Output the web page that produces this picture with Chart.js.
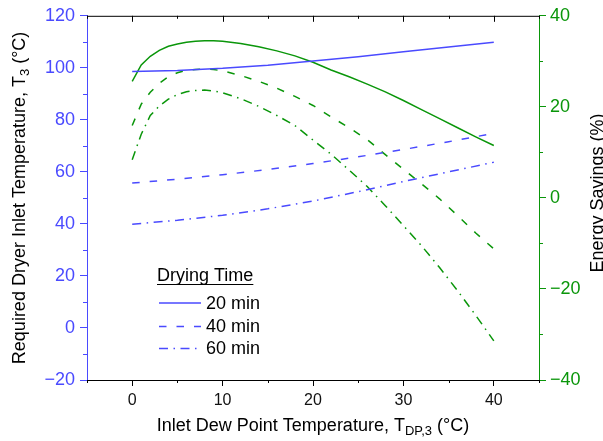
<!DOCTYPE html>
<html>
<head>
<meta charset="utf-8">
<script src="https://cdn.jsdelivr.net/npm/chart.js@4/dist/chart.umd.min.js"></script>
<style>
  body { margin: 0; background: #fff; }
</style>
</head>
<body>
<canvas id="myChart" width="603" height="441"></canvas>
<script>
// 색상
const BLUE = '#4a4aff';
const GREEN = '#0a960a';
const FONT = '"Liberation Sans", Arial, sans-serif';

// 축 눈금
const xTicks = [0, 10, 20, 30, 40];
const tempTicks = [-20, 0, 20, 40, 60, 80, 100, 120];
const savingTicks = [-40, -20, 0, 20, 40];

// 건조시간 라벨
const dryingTimes = ['20 min', '40 min', '60 min'];

// 요구 입구온도 T3 (왼쪽 축)
const dewPointTemp = [0, 5, 10, 15, 20, 25, 30, 35, 40];
const temp20 = [98.6, 99.0, 99.8, 101.0, 102.6, 104.3, 106.2, 108.0, 109.8];
const temp40 = [55.7, 57.2, 58.9, 60.9, 63.2, 65.8, 68.6, 71.6, 74.8];
const temp60 = [39.9, 41.4, 43.3, 45.8, 48.8, 52.4, 56.3, 60.0, 63.7];

// 에너지 절감 (오른쪽 축)
const dewPointSaving = [0, 1, 2, 3, 4, 5, 6, 7, 8, 9, 10, 12, 14, 16, 18, 20, 22, 24, 26, 28, 30, 32, 34, 36, 38, 40];
const saving20 = [25.6, 29.2, 31.1, 32.4, 33.3, 33.8, 34.2, 34.4, 34.5, 34.5, 34.4, 33.9, 33.2, 32.3, 31.2, 29.8, 28.1, 26.6, 25.0, 23.3, 21.4, 19.4, 17.4, 15.4, 13.4, 11.5];
const saving40 = [15.9, 20.6, 23.2, 25.2, 26.6, 27.5, 28.0, 28.2, 28.3, 28.2, 27.9, 26.9, 25.6, 24.1, 22.3, 20.3, 17.8, 15.4, 12.8, 9.5, 6.3, 3.1, -0.2, -3.9, -7.7, -11.2];
const saving60 = [8.4, 14.0, 18.1, 20.2, 21.7, 22.7, 23.3, 23.6, 23.7, 23.5, 23.1, 21.8, 20.1, 18.1, 15.9, 12.7, 9.6, 6.1, 2.5, -1.7, -6.1, -10.5, -15.3, -20.4, -25.8, -31.4];

const DASH = [7.5, 10];
const DASHDOT = [9, 5.5, 1.5, 5.5];
const dashes = [[], DASH, DASHDOT];

function toPoints(xs, ys) {
  return xs.map((x, i) => ({ x: x, y: ys[i] }));
}

function lineSet(label, xs, ys, color, dash, axis) {
  return {
    label: label,
    data: toPoints(xs, ys),
    borderColor: color,
    borderWidth: 1.5,
    borderDash: dash,
    pointRadius: 0,
    tension: 0,
    fill: false,
    yAxisID: axis,
  };
}

// 마이너스 기호
function minusLabel(v) {
  return String(v).replace('-', '\u2212');
}

const data = {
  datasets: [
    lineSet('T3 20 min', dewPointTemp, temp20, BLUE, [], 'y'),
    lineSet('T3 40 min', dewPointTemp, temp40, BLUE, DASH, 'y'),
    lineSet('T3 60 min', dewPointTemp, temp60, BLUE, DASHDOT, 'y'),
    lineSet('Saving 20 min', dewPointSaving, saving20, GREEN, [], 'y2'),
    lineSet('Saving 40 min', dewPointSaving, saving40, GREEN, DASH, 'y2'),
    lineSet('Saving 60 min', dewPointSaving, saving60, GREEN, DASHDOT, 'y2'),
  ],
};

// 아래첨자 포함 텍스트 그리기
function drawParts(ctx, parts, size) {
  ctx.textBaseline = 'middle';
  let total = 0;
  parts.forEach(p => {
    ctx.font = (p.sub ? size * 0.72 : size) + 'px ' + FONT;
    p.w = ctx.measureText(p.t).width;
    total += p.w;
  });
  let x = -total / 2;
  parts.forEach(p => {
    ctx.font = (p.sub ? size * 0.72 : size) + 'px ' + FONT;
    ctx.textAlign = 'left';
    ctx.fillText(p.t, x, p.sub ? size * 0.3 : 0);
    x += p.w;
  });
}

const decorPlugin = {
  id: 'decor',
  afterDraw(chart) {
    const ctx = chart.ctx;
    const a = chart.chartArea;
    const xs = chart.scales.x;
    const ys = chart.scales.y;
    const y2 = chart.scales.y2;
    ctx.save();

    // 위쪽 축선 + 안쪽 눈금
    ctx.strokeStyle = '#000';
    ctx.lineWidth = 1;
    ctx.beginPath();
    ctx.moveTo(a.left, a.top + 0.5);
    ctx.lineTo(a.right, a.top + 0.5);
    for (let v = -5; v <= 45; v += 5) {
      const px = Math.round(xs.getPixelForValue(v)) + 0.5;
      const len = v % 10 === 0 ? 6 : 3;
      ctx.moveTo(px, a.top);
      ctx.lineTo(px, a.top + len);
      // 아래쪽 보조 눈금
      if (v % 10 !== 0) {
        ctx.moveTo(px, a.bottom);
        ctx.lineTo(px, a.bottom + 3);
      }
    }
    ctx.stroke();

    // 왼쪽 보조 눈금
    ctx.strokeStyle = BLUE;
    ctx.beginPath();
    for (let v = -10; v <= 110; v += 20) {
      const py = Math.round(ys.getPixelForValue(v)) + 0.5;
      ctx.moveTo(a.left, py);
      ctx.lineTo(a.left - 4, py);
    }
    ctx.stroke();

    // 오른쪽 보조 눈금
    ctx.strokeStyle = GREEN;
    ctx.beginPath();
    for (let v = -30; v <= 30; v += 20) {
      const py = Math.round(y2.getPixelForValue(v)) + 0.5;
      ctx.moveTo(a.right, py);
      ctx.lineTo(a.right + 4, py);
    }
    ctx.stroke();

    // 축 제목
    ctx.fillStyle = '#000';
    ctx.save();
    ctx.translate(20, (a.top + a.bottom) / 2);
    ctx.rotate(-Math.PI / 2);
    drawParts(ctx, [{ t: 'Required Dryer Inlet Temperature, T' }, { t: '3', sub: true }, { t: ' (°C)' }], 18);
    ctx.restore();

    ctx.save();
    ctx.translate((a.left + a.right) / 2, 426);
    drawParts(ctx, [{ t: 'Inlet Dew Point Temperature, T' }, { t: 'DP,3', sub: true }, { t: ' (°C)' }], 18);
    ctx.restore();

    ctx.save();
    ctx.translate(598, 193);
    ctx.rotate(-Math.PI / 2);
    drawParts(ctx, [{ t: 'Energy Savings (%)' }], 18);
    ctx.restore();

    // 범례
    ctx.font = '18px ' + FONT;
    ctx.textAlign = 'left';
    ctx.textBaseline = 'middle';
    ctx.fillText('Drying Time', 157, 276);
    const tw = ctx.measureText('Drying Time').width;
    ctx.lineWidth = 1;
    ctx.strokeStyle = '#000';
    ctx.beginPath();
    ctx.moveTo(157, 284.5);
    ctx.lineTo(157 + tw, 284.5);
    ctx.stroke();

    const rowY = [303, 326.5, 348.5];
    dryingTimes.forEach((name, i) => {
      ctx.strokeStyle = BLUE;
      ctx.lineWidth = 1.5;
      ctx.setLineDash(dashes[i]);
      ctx.beginPath();
      ctx.moveTo(159, rowY[i]);
      ctx.lineTo(201, rowY[i]);
      ctx.stroke();
      ctx.setLineDash([]);
      ctx.fillStyle = '#000';
      ctx.fillText(name, 206, rowY[i] + 1);
    });

    ctx.restore();
  },
};

const config = {
  type: 'line',
  data: data,
  options: {
    responsive: false,
    animation: false,
    devicePixelRatio: 1,
    layout: { padding: { top: 15, left: 0, right: 0, bottom: 0 } },
    plugins: {
      legend: { display: false },
      tooltip: { enabled: false },
    },
    scales: {
      x: {
        type: 'linear',
        position: 'bottom',
        min: -5,
        max: 45,
        afterBuildTicks: s => { s.ticks = xTicks.map(v => ({ value: v })); },
        afterFit: s => { s.height = 61; },
        ticks: { color: '#111', font: { family: FONT, size: 16 }, padding: 5, maxRotation: 0 },
        grid: { drawOnChartArea: false, tickLength: 6, tickColor: '#000', tickWidth: 1 },
        border: { color: '#000', width: 1 },
      },
      y: {
        position: 'left',
        min: -20,
        max: 120,
        afterBuildTicks: s => { s.ticks = tempTicks.map(v => ({ value: v })); },
        afterFit: s => { s.width = 87; },
        ticks: { color: BLUE, font: { family: FONT, size: 18 }, padding: 5, callback: minusLabel },
        grid: { drawOnChartArea: false, tickLength: 7, tickColor: BLUE, tickWidth: 1 },
        border: { color: BLUE, width: 1 },
      },
      y2: {
        position: 'right',
        min: -40,
        max: 40,
        afterBuildTicks: s => { s.ticks = savingTicks.map(v => ({ value: v })); },
        afterFit: s => { s.width = 64; },
        ticks: { color: GREEN, font: { family: FONT, size: 18 }, padding: 4, callback: minusLabel },
        grid: { drawOnChartArea: false, tickLength: 7, tickColor: GREEN, tickWidth: 1 },
        border: { color: GREEN, width: 1 },
      },
    },
  },
  plugins: [decorPlugin],
};

const myChart = new Chart(document.getElementById('myChart'), config);
</script>
</body>
</html>
